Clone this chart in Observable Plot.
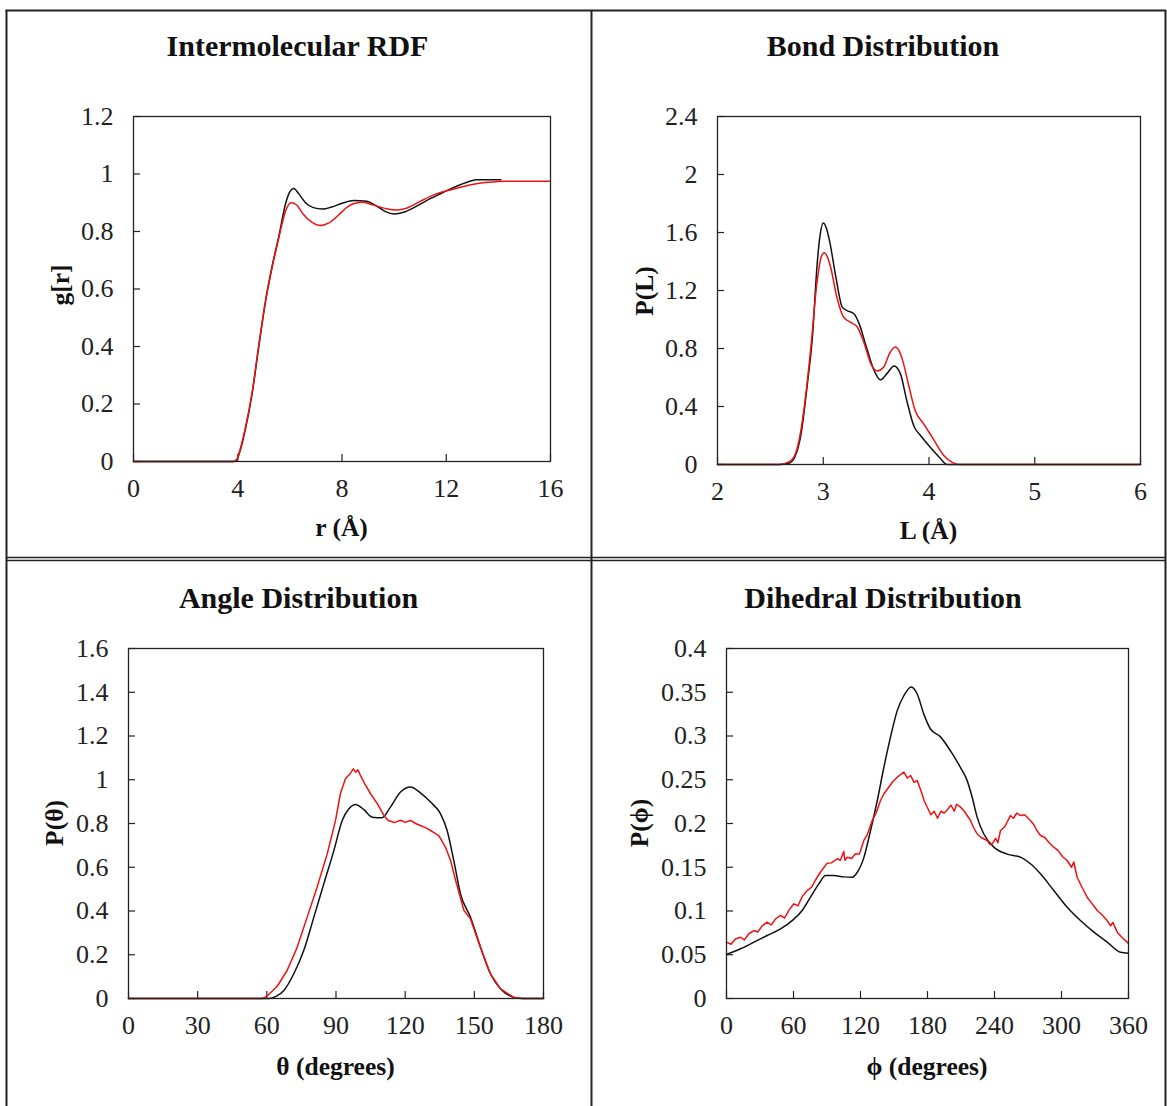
<!DOCTYPE html>
<html>
<head>
<meta charset="utf-8">
<script src="https://cdn.jsdelivr.net/npm/d3@7"></script>
<script src="https://cdn.jsdelivr.net/npm/@observablehq/plot@0.6"></script>
<style>
  body { margin: 0; background: #fff; }
  #page { position: relative; width: 1167px; height: 1106px; overflow: hidden; background: #fff; }
  .panel { position: absolute; }
  #overlay { position: absolute; left: 0; top: 0; pointer-events: none; }
  #overlay text { font-family: "Liberation Serif", "Times New Roman", serif; fill: #111; }
</style>
</head>
<body>
<div id="page"></div>
<script>
// ---------- Panel titles and axis labels ----------
const titles = ["Intermolecular RDF", "Bond Distribution", "Angle Distribution", "Dihedral Distribution"];
const xLabels = ["r (Å)", "L (Å)", "θ (degrees)", "ϕ (degrees)"];
const yLabels = ["g[r]", "P(L)", "P(θ)", "P(ϕ)"];

// ---------- Tick values ----------
const rdfXTicks = [0, 4, 8, 12, 16];
const rdfYTicks = [0, 0.2, 0.4, 0.6, 0.8, 1, 1.2];
const bondXTicks = [2, 3, 4, 5, 6];
const bondYTicks = [0, 0.4, 0.8, 1.2, 1.6, 2, 2.4];
const angXTicks = [0, 30, 60, 90, 120, 150, 180];
const angYTicks = [0, 0.2, 0.4, 0.6, 0.8, 1, 1.2, 1.4, 1.6];
const dihXTicks = [0, 60, 120, 180, 240, 300, 360];
const dihYTicks = [0, 0.05, 0.1, 0.15, 0.2, 0.25, 0.3, 0.35, 0.4];

// ---------- Intermolecular RDF ----------
const rdfBlackR = [0, 3.85, 3.95, 4.1, 4.3, 4.55, 4.8, 5.07, 5.32, 5.58, 5.83, 5.98, 6.15, 6.35, 6.6, 6.9, 7.25, 7.6, 8.0, 8.45, 8.95, 9.3, 9.65, 10.0, 10.4, 11.0, 11.4, 11.8, 12.2, 12.55, 12.9, 13.2, 14.1];
const rdfBlackG = [0, 0, 0.005, 0.04, 0.115, 0.235, 0.395, 0.56, 0.68, 0.785, 0.895, 0.935, 0.95, 0.93, 0.9, 0.883, 0.878, 0.885, 0.898, 0.908, 0.905, 0.89, 0.87, 0.861, 0.868, 0.895, 0.915, 0.932, 0.95, 0.963, 0.975, 0.98, 0.98];
const rdfRedR = [0, 3.8, 3.95, 4.1, 4.3, 4.55, 4.8, 5.07, 5.32, 5.58, 5.83, 6.05, 6.25, 6.5, 6.8, 7.18, 7.5, 7.9, 8.2, 8.5, 8.8, 9.1, 9.45, 9.75, 10.1, 10.5, 11.0, 11.6, 12.3, 12.9, 13.6, 14.3, 16];
const rdfRedG = [0, 0, 0.006, 0.045, 0.12, 0.24, 0.4, 0.56, 0.675, 0.78, 0.87, 0.9, 0.893, 0.862, 0.835, 0.821, 0.83, 0.86, 0.885, 0.898, 0.902, 0.895, 0.885, 0.878, 0.875, 0.882, 0.905, 0.93, 0.948, 0.962, 0.971, 0.975, 0.975];

// ---------- Bond distribution ----------
const bondBlackL = [2, 2.6, 2.68, 2.73, 2.79, 2.85, 2.9, 2.94, 2.97, 3.0, 3.03, 3.06, 3.12, 3.18, 3.23, 3.29, 3.34, 3.40, 3.48, 3.54, 3.60, 3.67, 3.73, 3.79, 3.86, 3.92, 4.01, 4.11, 4.17, 6];
const bondBlackP = [0, 0, 0.01, 0.05, 0.21, 0.556, 0.9, 1.36, 1.58, 1.665, 1.63, 1.54, 1.29, 1.085, 1.06, 1.04, 0.97, 0.83, 0.65, 0.584, 0.625, 0.68, 0.625, 0.44, 0.26, 0.2, 0.12, 0.04, 0, 0];
const bondRedL = [2, 2.58, 2.68, 2.74, 2.78, 2.82, 2.88, 2.94, 2.98, 3.01, 3.04, 3.07, 3.13, 3.19, 3.26, 3.32, 3.38, 3.46, 3.51, 3.57, 3.63, 3.68, 3.72, 3.75, 3.81, 3.87, 3.95, 4.05, 4.14, 4.22, 4.28, 6];
const bondRedP = [0, 0, 0.02, 0.08, 0.2, 0.395, 0.786, 1.25, 1.43, 1.46, 1.43, 1.36, 1.15, 1.02, 0.98, 0.95, 0.85, 0.68, 0.645, 0.67, 0.77, 0.81, 0.78, 0.72, 0.54, 0.37, 0.28, 0.165, 0.062, 0.015, 0, 0];

// ---------- Angle distribution ----------
const angBlackT = [0, 61, 64, 67.4, 71.7, 76, 80.4, 84.7, 89.1, 92.7, 95.6, 98.5, 102.1, 105.7, 110, 113.6, 118, 122.3, 126.6, 131, 135.3, 138.2, 141.1, 144, 148.3, 152.7, 157, 161.3, 167, 171, 180];
const angBlackP = [0, 0, 0.01, 0.037, 0.113, 0.219, 0.372, 0.524, 0.677, 0.814, 0.867, 0.887, 0.863, 0.829, 0.826, 0.875, 0.944, 0.967, 0.94, 0.898, 0.845, 0.768, 0.63, 0.478, 0.372, 0.234, 0.113, 0.044, 0.006, 0, 0];
const angRedT = [0, 58, 60, 64.5, 68.8, 73.2, 77.5, 81.8, 86.2, 89.8, 91.9, 94.1, 96.3, 97.5, 98.5, 99.5, 100.6, 102.8, 105, 107.9, 110.8, 112.5, 113.6, 115.5, 118, 120, 122.3, 124.5, 126.6, 129, 131, 133, 134.6, 137.5, 139.7, 141.9, 145.5, 148.3, 152.7, 157, 161.3, 167, 171, 180];
const angRedP = [0, 0, 0.01, 0.056, 0.128, 0.235, 0.372, 0.509, 0.661, 0.814, 0.936, 1.005, 1.03, 1.05, 1.035, 1.045, 1.02, 0.975, 0.936, 0.891, 0.837, 0.815, 0.81, 0.805, 0.815, 0.805, 0.814, 0.8, 0.791, 0.78, 0.768, 0.755, 0.745, 0.691, 0.631, 0.539, 0.402, 0.365, 0.232, 0.112, 0.045, 0.005, 0, 0];

// ---------- Dihedral distribution ----------
const dihBlackPhi = [0, 12.5, 24.5, 36.4, 48.4, 58.8, 67.8, 75.2, 82.7, 88.7, 96.1, 105.1, 112.6, 117, 123, 129, 135, 140.9, 146.9, 152.9, 158.8, 165.4, 170.8, 176.7, 182.7, 191.6, 200.6, 209.5, 215.5, 220, 224.5, 230.4, 239.4, 251.4, 263.3, 272.2, 281.2, 293.1, 305.1, 317, 329, 340.9, 352.8, 360];
const dihBlackP = [0.0503, 0.0568, 0.0644, 0.072, 0.0796, 0.089, 0.1006, 0.1158, 0.131, 0.1406, 0.1406, 0.139, 0.1387, 0.144, 0.161, 0.192, 0.226, 0.264, 0.299, 0.329, 0.346, 0.356, 0.348, 0.325, 0.308, 0.299, 0.283, 0.264, 0.249, 0.23, 0.207, 0.188, 0.173, 0.165, 0.1615, 0.154, 0.1425, 0.1234, 0.1043, 0.0891, 0.0758, 0.0644, 0.0529, 0.0518];
const dihRedPhi = [0, 4, 8, 12.5, 16, 20, 24.5, 28, 32, 36.4, 40, 44, 48.4, 52, 56, 60.3, 64, 68, 72.3, 76, 81.2, 85, 90.2, 94, 99.1, 102, 105, 106, 108.1, 112, 115.5, 119, 123, 126, 130.5, 134, 137.9, 141, 145.3, 149, 152.9, 156, 158.8, 162, 164.8, 168, 170.8, 174, 177, 180, 183, 186, 189, 192, 195, 198, 201, 204, 206, 209.5, 213, 218.5, 221, 224.5, 228, 233.5, 236, 238, 241, 243, 245.4, 249, 254.3, 257, 260, 263.3, 267, 272.2, 275, 278, 281.2, 285, 289, 293.1, 297, 301, 305.1, 309, 311, 314, 318, 323, 327, 332, 336, 340.9, 344, 346, 349.9, 354, 358.8, 360];
const dihRedP = [0.0644, 0.062, 0.068, 0.070, 0.067, 0.074, 0.0777, 0.076, 0.083, 0.0872, 0.084, 0.091, 0.0949, 0.092, 0.101, 0.1082, 0.106, 0.117, 0.1234, 0.127, 0.1386, 0.146, 0.1547, 0.155, 0.1597, 0.158, 0.168, 0.158, 0.1615, 0.160, 0.1654, 0.165, 0.1806, 0.187, 0.2034, 0.212, 0.2263, 0.234, 0.2415, 0.248, 0.2529, 0.256, 0.2586, 0.252, 0.2549, 0.247, 0.249, 0.238, 0.226, 0.218, 0.210, 0.214, 0.206, 0.214, 0.212, 0.216, 0.221, 0.214, 0.222, 0.2187, 0.214, 0.2034, 0.196, 0.188, 0.184, 0.1806, 0.176, 0.1768, 0.183, 0.178, 0.192, 0.196, 0.2091, 0.206, 0.212, 0.2091, 0.210, 0.2034, 0.199, 0.192, 0.1863, 0.184, 0.178, 0.1729, 0.169, 0.162, 0.1577, 0.150, 0.156, 0.1386, 0.128, 0.1158, 0.109, 0.1006, 0.096, 0.0891, 0.083, 0.087, 0.0758, 0.070, 0.0644, 0.063];

// ---------- Build ----------
const zip = (xs, ys) => xs.map((x, i) => ({x, y: ys[i]}));
const BLACK = "#111111";
const RED = "#ee1111";
const fmt = d => String(d);
const TICK_FONT = 26;

const panels = [
  {left: 0, top: 0, width: 590, height: 557, ml: 133, mr: 40, mt: 116, mb: 96,
   xDomain: [0, 16], yDomain: [0, 1.2], xTicks: rdfXTicks, yTicks: rdfYTicks,
   black: zip(rdfBlackR, rdfBlackG), red: zip(rdfRedR, rdfRedG), curve: "monotone-x", redCurve: "monotone-x"},
  {left: 592, top: 0, width: 575, height: 557, ml: 125, mr: 27, mt: 116, mb: 93,
   xDomain: [2, 6], yDomain: [0, 2.4], xTicks: bondXTicks, yTicks: bondYTicks,
   black: zip(bondBlackL, bondBlackP), red: zip(bondRedL, bondRedP), curve: "monotone-x", redCurve: "monotone-x"},
  {left: 0, top: 560, width: 590, height: 546, ml: 128, mr: 47, mt: 88, mb: 108,
   xDomain: [0, 180], yDomain: [0, 1.6], xTicks: angXTicks, yTicks: angYTicks,
   black: zip(angBlackT, angBlackP), red: zip(angRedT, angRedP), curve: "monotone-x", redCurve: "linear"},
  {left: 592, top: 560, width: 575, height: 546, ml: 134, mr: 39, mt: 88, mb: 108,
   xDomain: [0, 360], yDomain: [0, 0.4], xTicks: dihXTicks, yTicks: dihYTicks,
   black: zip(dihBlackPhi, dihBlackP), red: zip(dihRedPhi, dihRedP), curve: "monotone-x", redCurve: "linear"}
];

const page = document.getElementById("page");

panels.forEach(p => {
  const plotW = p.width - p.ml - p.mr;
  const plotH = p.height - p.mt - p.mb;
  const chart = Plot.plot({
    width: p.width, height: p.height,
    marginLeft: p.ml, marginRight: p.mr, marginTop: p.mt, marginBottom: p.mb,
    style: {fontFamily: '"Liberation Serif", "Times New Roman", serif', fontSize: TICK_FONT + "px", color: "#222", background: "transparent", overflow: "visible"},
    x: {domain: p.xDomain},
    y: {domain: p.yDomain},
    marks: [
      Plot.tickX(p.xTicks, {x: d => d, insetTop: plotH - 7, stroke: "#222", strokeWidth: 1.2}),
      Plot.tickY(p.yTicks, {y: d => d, insetRight: plotW - 7, stroke: "#222", strokeWidth: 1.2}),
      Plot.axisX({ticks: p.xTicks, tickSize: 0, tickPadding: 17, tickFormat: fmt, fontSize: TICK_FONT, label: null}),
      Plot.axisY({ticks: p.yTicks, tickSize: 0, tickPadding: 20, tickFormat: fmt, fontSize: TICK_FONT, label: null}),
      Plot.line(p.black, {x: "x", y: "y", stroke: BLACK, strokeWidth: 1.5, curve: p.curve}),
      Plot.line(p.red, {x: "x", y: "y", stroke: RED, strokeWidth: 1.5, curve: p.redCurve}),
      Plot.frame({stroke: "#222", strokeWidth: 1.3})
    ]
  });
  chart.classList.add("panel");
  chart.style.left = p.left + "px";
  chart.style.top = p.top + "px";
  page.appendChild(chart);
});

// ---------- Overlay: borders, titles, axis labels ----------
const ns = "http://www.w3.org/2000/svg";
const svg = document.createElementNS(ns, "svg");
svg.setAttribute("id", "overlay");
svg.setAttribute("width", 1167);
svg.setAttribute("height", 1106);
page.appendChild(svg);

function line(x1, y1, x2, y2, w, c) {
  const l = document.createElementNS(ns, "line");
  l.setAttribute("x1", x1); l.setAttribute("y1", y1);
  l.setAttribute("x2", x2); l.setAttribute("y2", y2);
  l.setAttribute("stroke", c || "#222"); l.setAttribute("stroke-width", w || 2);
  svg.appendChild(l);
}
// outer frame and dividers
line(6.5, 10, 6.5, 1106, 2);
line(5.5, 10.5, 1166, 10.5, 2);
line(1165.5, 10, 1165.5, 1106, 2);
line(591.5, 10, 591.5, 1106, 2);
line(6, 557.5, 1166, 557.5, 1.6);
line(6, 560.5, 1166, 560.5, 1.6);

function text(str, x, y, size, rotate) {
  const t = document.createElementNS(ns, "text");
  t.textContent = str;
  t.setAttribute("text-anchor", "middle");
  t.setAttribute("font-weight", "bold");
  t.setAttribute("font-size", size);
  if (rotate) {
    t.setAttribute("transform", `translate(${x},${y}) rotate(-90)`);
  } else {
    t.setAttribute("x", x); t.setAttribute("y", y);
  }
  svg.appendChild(t);
}
const titlePos = [[297.5, 56], [883, 56], [298.5, 608], [883, 608]];
const xLabelPos = [[341.5, 536], [928.5, 539], [335.5, 1075], [927, 1075]];
const yLabelPos = [[69, 285], [653, 291], [63, 823], [648, 823]];
titles.forEach((s, i) => text(s, titlePos[i][0], titlePos[i][1], 30));
xLabels.forEach((s, i) => text(s, xLabelPos[i][0], xLabelPos[i][1], 25.5));
yLabels.forEach((s, i) => text(s, yLabelPos[i][0], yLabelPos[i][1], 25.5, true));
</script>
</body>
</html>
